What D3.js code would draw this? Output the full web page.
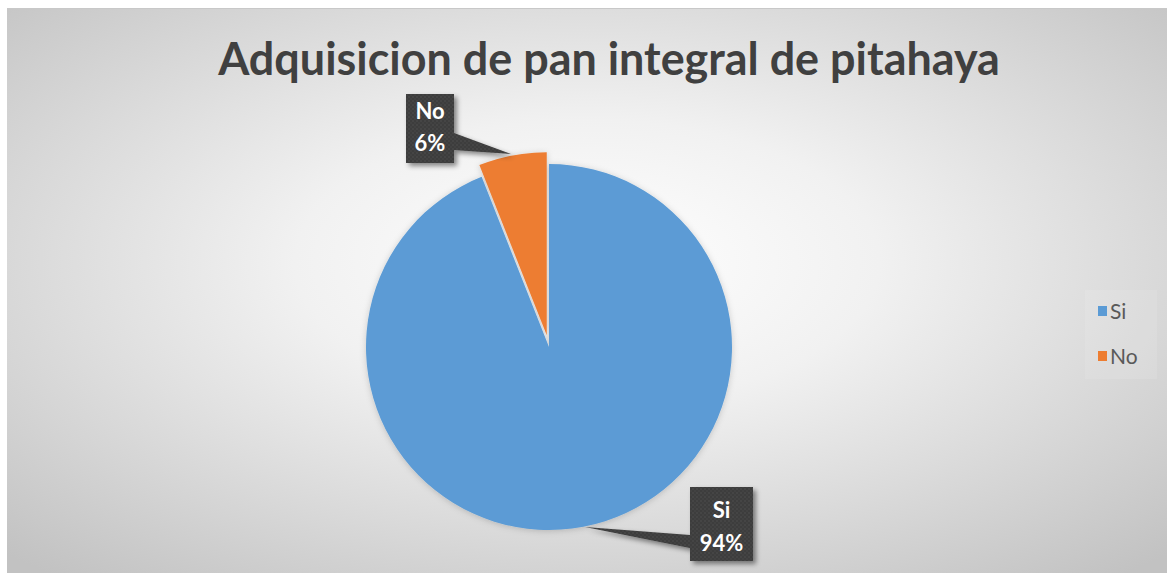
<!DOCTYPE html>
<html>
<head>
<meta charset="utf-8">
<script src="https://cdn.jsdelivr.net/npm/d3@7"></script>
<style>
  html, body { margin: 0; padding: 0; background: #ffffff; }
  svg { display: block; }
</style>
</head>
<body>
<svg id="chart" width="1167" height="573"></svg>
<script>
// Survey answers: share of respondents who would buy whole-grain pitahaya bread
const categories = ["Si", "No"];
const values = [94, 6];
const percentLabels = ["94%", "6%"];
const colors = ["#5B9BD5", "#ED7D31"];
const title = "Adquisicion de pan integral de pitahaya";

const W = 1167, H = 573;
const svg = d3.select("#chart");
const defs = svg.append("defs");

// chart area background: soft radial gradient
const grad = defs.append("radialGradient")
  .attr("id", "bg").attr("cx", "0.5").attr("cy", "0.45").attr("r", "0.72");
grad.append("stop").attr("offset", "0").attr("stop-color", "#ffffff");
grad.append("stop").attr("offset", "0.35").attr("stop-color", "#f1f1f1");
grad.append("stop").attr("offset", "1").attr("stop-color", "#c2c2c2");

svg.append("rect").attr("x", 7).attr("y", 8).attr("width", W - 7).attr("height", H - 8)
  .attr("fill", "url(#bg)");
svg.append("line").attr("x1", 7).attr("x2", W).attr("y1", 8.5).attr("y2", 8.5)
  .attr("stroke", "#c8c8c8").attr("stroke-width", 1);

// drop shadow for callouts
const sh = defs.append("filter").attr("id", "shadow")
  .attr("x", "-30%").attr("y", "-30%").attr("width", "170%").attr("height", "170%");
sh.append("feDropShadow").attr("dx", 3).attr("dy", 3).attr("stdDeviation", 2.5)
  .attr("flood-color", "#000").attr("flood-opacity", 0.45);

// soft halo under the pie
const ps = defs.append("filter").attr("id", "pieShadow")
  .attr("x", "-10%").attr("y", "-10%").attr("width", "120%").attr("height", "120%");
ps.append("feDropShadow").attr("dx", 0).attr("dy", 1).attr("stdDeviation", 3)
  .attr("flood-color", "#000").attr("flood-opacity", 0.18);

// fine dotted texture used on the callout fill
const pat = defs.append("pattern").attr("id", "dots")
  .attr("width", 4).attr("height", 4).attr("patternUnits", "userSpaceOnUse");
pat.append("rect").attr("width", 4).attr("height", 4).attr("fill", "#3c3c3c");
pat.append("circle").attr("cx", 1).attr("cy", 1).attr("r", 0.8).attr("fill", "#505050");
pat.append("circle").attr("cx", 3).attr("cy", 3).attr("r", 0.8).attr("fill", "#494949");

// title, sized to its measured width
const titleText = svg.append("text")
  .attr("x", 609).attr("y", 75)
  .attr("text-anchor", "middle")
  .attr("font-family", "Lato, 'Open Sans', sans-serif")
  .attr("font-weight", "bold")
  .attr("font-size", 44)
  .attr("fill", "#404040")
  .text(title);
const tw = titleText.node().getComputedTextLength();
titleText.attr("font-size", 44 * 782 / tw);

// pie
const cx = 549, cy = 347, R = 183, explode = 12;
const pie = d3.pie().sort(null).value(d => d.v);
const arcs = pie(categories.map((c, i) => ({ c, v: values[i], i })));
const arc = d3.arc().innerRadius(0).outerRadius(R);

const g = svg.append("g").attr("transform", `translate(${cx},${cy})`)
  .attr("filter", "url(#pieShadow)");
g.selectAll("path.slice").data(arcs).join("path")
  .attr("class", "slice")
  .attr("d", arc)
  .attr("fill", d => colors[d.data.i])
  .attr("transform", d => {
    if (d.data.c !== "No") return null;
    const mid = (d.startAngle + d.endAngle) / 2;
    return `translate(${explode * Math.sin(mid)},${-explode * Math.cos(mid)})`;
  });

// callouts (box with a pointer toward its slice)
function callout(box, tip, base, lines, baselines) {
  const [x0, y0, x1, y1] = box;
  let p;
  if (tip[0] > x1) {
    p = `M${x0},${y0}H${x1}V${base[0]}L${tip[0]},${tip[1]}L${x1},${base[1]}V${y1}H${x0}Z`;
  } else {
    p = `M${x0},${y0}H${x1}V${y1}H${x0}V${base[1]}L${tip[0]},${tip[1]}L${x0},${base[0]}Z`;
  }
  svg.append("path").attr("d", p).attr("fill", "url(#dots)").attr("filter", "url(#shadow)");
  const mx = (x0 + x1) / 2;
  lines.forEach((t, k) => {
    svg.append("text")
      .attr("x", mx).attr("y", baselines[k])
      .attr("text-anchor", "middle")
      .attr("font-family", "Lato, 'Open Sans', sans-serif")
      .attr("font-weight", "bold")
      .attr("font-size", 22)
      .attr("fill", "#ffffff")
      .text(t);
  });
}

const noIdx = categories.indexOf("No"), siIdx = categories.indexOf("Si");
callout([406, 94, 454, 163], [511, 154], [133, 150],
  [categories[noIdx], percentLabels[noIdx]], [119, 151]);
callout([690, 487, 753, 561], [585, 527], [535, 548],
  [categories[siIdx], percentLabels[siIdx]], [518, 551]);

// legend
const lg = svg.append("g");
lg.append("rect").attr("x", 1085).attr("y", 290).attr("width", 72).attr("height", 89)
  .attr("fill", "#ffffff").attr("opacity", 0.1);
categories.forEach((c, i) => {
  const y = 319 + i * 45;
  lg.append("rect").attr("x", 1098).attr("y", y - 13).attr("width", 9).attr("height", 10)
    .attr("fill", colors[i]);
  lg.append("text").attr("x", 1110).attr("y", y)
    .attr("font-family", "Lato, 'Open Sans', sans-serif")
    .attr("font-size", 21)
    .attr("fill", "#595959")
    .text(c);
});
</script>
</body>
</html>
